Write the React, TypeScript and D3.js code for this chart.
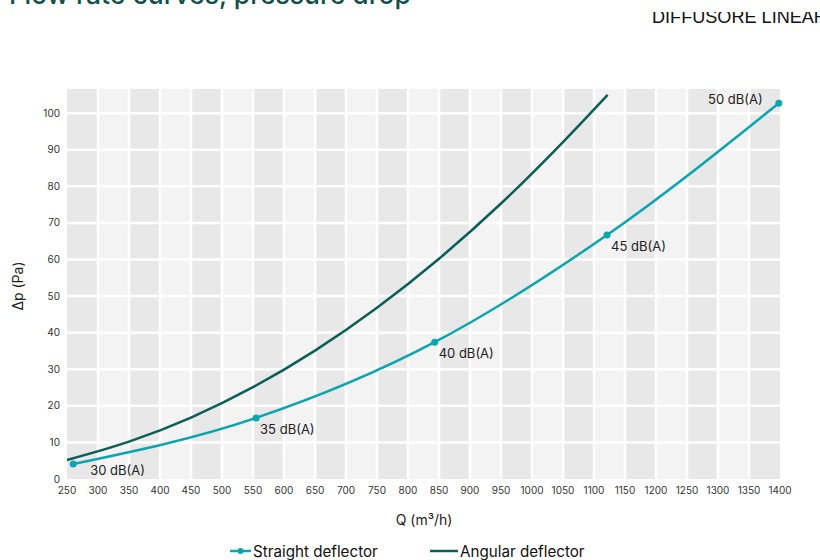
import React from "react";
import * as d3 from "d3";

const straightQ = [260, 555, 843, 1121, 1398];
const straightDp = [4.1, 16.7, 37.4, 66.7, 102.7];
const straightLabels = ["30 dB(A)", "35 dB(A)", "40 dB(A)", "45 dB(A)", "50 dB(A)"];

const angularQ = [250, 350, 450, 550, 650, 750, 850, 950, 1050, 1122];
const angularDp = [5.2, 10.2, 16.8, 25.1, 35.1, 46.8, 60.2, 75.3, 92.1, 105.0];

const xTicks = d3.range(250, 1401, 50);
const yTicks = d3.range(0, 101, 10);

const W = 820;
const H = 560;
const FONT = "Inter, 'Noto Sans', sans-serif";

export default function App() {
  const x = d3.scaleLinear().domain([250, 1400]).range([67, 780]);
  const y = d3.scaleLinear().domain([0, 106.6]).range([479, 89]);

  const straight = straightQ.map((q, i) => [q, straightDp[i]] as [number, number]);
  const angular = angularQ.map((q, i) => [q, angularDp[i]] as [number, number]);

  const line = d3
    .line<[number, number]>()
    .x((d) => x(d[0]))
    .y((d) => y(d[1]))
    .curve(d3.curveMonotoneX);

  const cols = xTicks.slice(0, -1);
  const [yTop, yBot] = [y(106.6), y(0)];

  const labelPos = (i: number) => {
    if (i === straightQ.length - 1) return { dx: -16, dy: 1, anchor: "end" };
    if (i === 0) return { dx: 17, dy: 11, anchor: "start" };
    return { dx: 4, dy: 16, anchor: "start" };
  };

  const straightColor = "#0aa5b0";
  const angularColor = "#0b5f58";

  return (
    <svg
      width={W}
      height={H}
      style={{ position: "absolute", left: 0, top: 0, overflow: "hidden" }}
      fontFamily={FONT}
    >
      <defs>
        <clipPath id="subclip">
          <rect x={0} y={12} width={W} height={20} />
        </clipPath>
      </defs>
      <rect width={W} height={H} fill="#fff" />
      <text x={9} y={4} fontSize={26.5} fill="#124f4a" fontWeight={500}>
        Flow rate curves, pressure drop
      </text>
      <text
        x={652}
        y={23}
        fontSize={18.1}
        fill="#111"
        clipPath="url(#subclip)"
        fontFamily="'Liberation Sans', Arial, sans-serif"
      >
        DIFFUSORE LINEARE
      </text>

      {cols.map((c, i) => (
        <rect
          key={c}
          x={x(c)}
          y={yTop}
          width={x(c + 50) - x(c)}
          height={yBot - yTop}
          fill={i % 2 === 0 ? "#e8e8e8" : "#f3f3f3"}
        />
      ))}
      {xTicks.slice(1, -1).map((t) => (
        <line key={"vx" + t} x1={x(t)} x2={x(t)} y1={yTop} y2={yBot} stroke="#fff" strokeWidth={2.5} />
      ))}
      {yTicks.slice(1).map((t) => (
        <line key={"hy" + t} x1={x(250)} x2={x(1400)} y1={y(t)} y2={y(t)} stroke="#fff" strokeWidth={2.5} />
      ))}

      {xTicks.map((t) => (
        <text key={"xt" + t} x={x(t)} y={494} fontSize={10} fill="#333" textAnchor="middle">
          {t}
        </text>
      ))}
      {yTicks.map((t) => (
        <text key={"yt" + t} x={60} y={y(t) + 3.5} fontSize={10} fill="#333" textAnchor="end">
          {t}
        </text>
      ))}

      <text x={424} y={525} fontSize={14} fill="#222" textAnchor="middle">
        Q (m³/h)
      </text>
      <text
        transform={`translate(23,${286}) rotate(-90)`}
        fontSize={14}
        fill="#222"
        textAnchor="middle"
      >
        Δp (Pa)
      </text>

      <path d={line(angular) || ""} fill="none" stroke={angularColor} strokeWidth={2.5} />
      <path d={line(straight) || ""} fill="none" stroke={straightColor} strokeWidth={2.5} />
      {straight.map((d, i) => {
        const p = labelPos(i);
        return (
          <g key={"s" + i}>
            <circle cx={x(d[0])} cy={y(d[1])} r={3.5} fill={straightColor} />
            <text
              x={x(d[0]) + p.dx}
              y={y(d[1]) + p.dy}
              fontSize={13}
              fill="#222"
              textAnchor={p.anchor as any}
            >
              {straightLabels[i]}
            </text>
          </g>
        );
      })}

      <g>
        <line x1={230} x2={251} y1={551} y2={551} stroke={straightColor} strokeWidth={2.5} />
        <circle cx={240.5} cy={551} r={3} fill={straightColor} />
        <text x={253} y={557} fontSize={15.2} fill="#111">
          Straight deflector
        </text>
        <line x1={430} x2={458} y1={551} y2={551} stroke={angularColor} strokeWidth={2.5} />
        <text x={460} y={557} fontSize={15.2} fill="#111">
          Angular deflector
        </text>
      </g>
    </svg>
  );
}
